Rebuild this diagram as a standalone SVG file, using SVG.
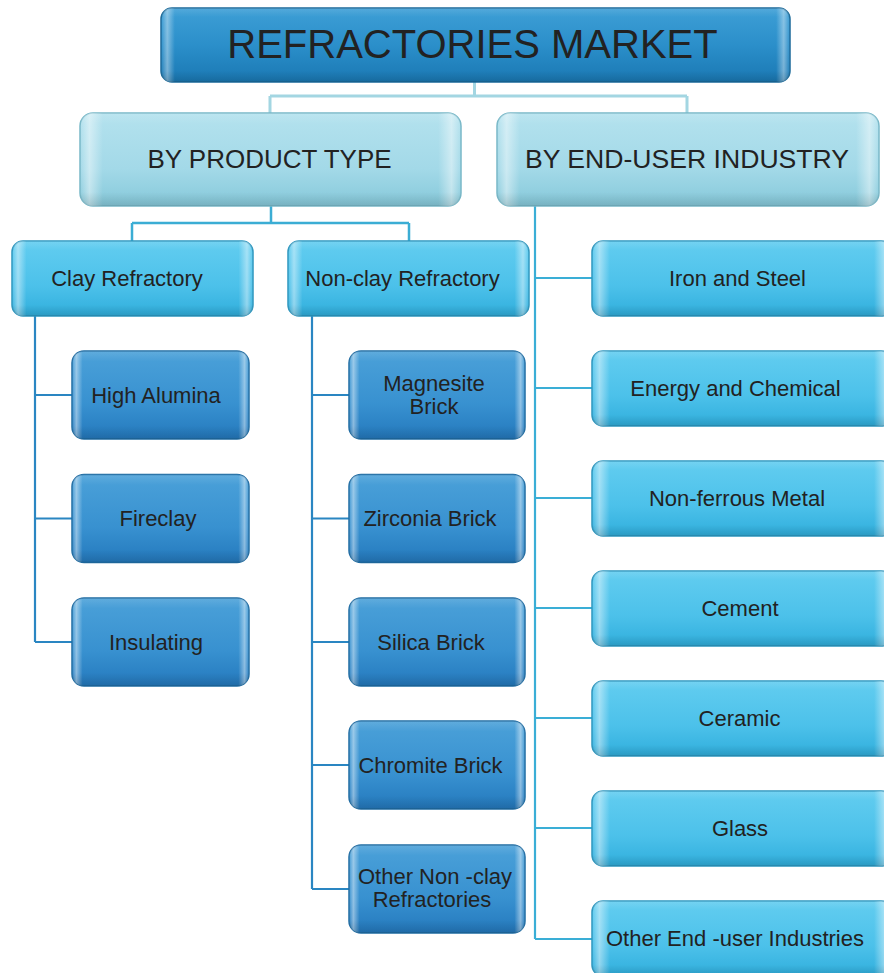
<svg xmlns="http://www.w3.org/2000/svg" width="884" height="973" viewBox="0 0 884 973">
<defs>
<linearGradient id="gTitle" x1="0" y1="0" x2="0" y2="1"><stop offset="0" stop-color="#3e9fd6"/><stop offset="0.5" stop-color="#2b8fca"/><stop offset="1" stop-color="#1a78b3"/></linearGradient>
<linearGradient id="gL2" x1="0" y1="0" x2="0" y2="1"><stop offset="0" stop-color="#b4e2ee"/><stop offset="0.6" stop-color="#a3d9e8"/><stop offset="1" stop-color="#86c9da"/></linearGradient>
<linearGradient id="gCyan" x1="0" y1="0" x2="0" y2="1"><stop offset="0" stop-color="#62cdf0"/><stop offset="0.6" stop-color="#4cc1ea"/><stop offset="1" stop-color="#30aedc"/></linearGradient>
<linearGradient id="gBlue" x1="0" y1="0" x2="0" y2="1"><stop offset="0" stop-color="#4ba1d9"/><stop offset="0.6" stop-color="#3891d0"/><stop offset="1" stop-color="#2479bd"/></linearGradient>
<linearGradient id="shineH" x1="0" y1="0" x2="1" y2="0"><stop offset="0" stop-color="#fff" stop-opacity="0"/><stop offset="0.025" stop-color="#fff" stop-opacity="0.45"/><stop offset="0.06" stop-color="#fff" stop-opacity="0"/><stop offset="0.94" stop-color="#fff" stop-opacity="0"/><stop offset="0.975" stop-color="#fff" stop-opacity="0.45"/><stop offset="1" stop-color="#fff" stop-opacity="0"/></linearGradient>
<linearGradient id="shineT" x1="0" y1="0" x2="1" y2="0"><stop offset="0" stop-color="#fff" stop-opacity="0"/><stop offset="0.01" stop-color="#fff" stop-opacity="0.4"/><stop offset="0.022" stop-color="#fff" stop-opacity="0"/><stop offset="0.978" stop-color="#fff" stop-opacity="0"/><stop offset="0.99" stop-color="#fff" stop-opacity="0.4"/><stop offset="1" stop-color="#fff" stop-opacity="0"/></linearGradient>
<linearGradient id="shadeV" x1="0" y1="0" x2="0" y2="1"><stop offset="0" stop-color="#fff" stop-opacity="0.12"/><stop offset="0.12" stop-color="#fff" stop-opacity="0"/><stop offset="0.85" stop-color="#000" stop-opacity="0"/><stop offset="1" stop-color="#000" stop-opacity="0.12"/></linearGradient>
</defs>
<style>
.box{stroke-width:1.5}
.title{fill:url(#gTitle);stroke:#1b6a9a}
.l2{fill:url(#gL2);stroke:#78b8c8}
.cyan{fill:url(#gCyan);stroke:#2d96be}
.blue{fill:url(#gBlue);stroke:#1f6ca3}
.sh{fill:url(#shineH)}
.st{fill:url(#shineT)}
.sv{fill:url(#shadeV)}
text{font-family:"Liberation Sans",Arial,sans-serif;fill:#222;text-anchor:middle}
.t1{font-size:40px}
.t2{font-size:26px}
.t3{font-size:22px}
.c0{fill:none;stroke:#a3d6e2;stroke-width:3}
.c1{fill:none;stroke:#3badd4;stroke-width:2.5}
.c2{fill:none;stroke:#2a86c2;stroke-width:2.2}
.c3{fill:none;stroke:#3aaed6;stroke-width:2.2}
</style>
<g id="connectors">
<path class="c0" d="M474.5 82V96M270 96H687M270 96V113M687 96V113"/>
<path class="c1" d="M271 206V223M132 223H409M132 223V241M409 223V241"/>
<path class="c2" d="M35 316V642M35 395H72M35 518.5H72M35 642H72"/>
<path class="c2" d="M312 316V889M312 395H349M312 518.5H349M312 642H349M312 765H349M312 889H349"/>
<path class="c3" d="M535 206V939M535 278H592M535 388H592M535 498H592M535 608H592M535 718H592M535 828H592M535 939H592"/>
</g>
<g id="n-market"><rect class="box title" x="161" y="8" width="629" height="74" rx="11"/><rect class="st" x="161" y="8" width="629" height="74" rx="11"/><rect class="sv" x="161" y="8" width="629" height="74" rx="11"/><text class="t1" x="472.5" y="57.5">REFRACTORIES MARKET</text></g>
<g id="n-product"><rect class="box l2" x="80" y="113" width="381" height="93" rx="13"/><rect class="sh" x="80" y="113" width="381" height="93" rx="13"/><rect class="sv" x="80" y="113" width="381" height="93" rx="13"/><text class="t2" x="269.5" y="168">BY PRODUCT TYPE</text></g>
<g id="n-enduser"><rect class="box l2" x="497" y="113" width="382" height="93" rx="13"/><rect class="sh" x="497" y="113" width="382" height="93" rx="13"/><rect class="sv" x="497" y="113" width="382" height="93" rx="13"/><text class="t2" x="687" y="168" textLength="324" lengthAdjust="spacingAndGlyphs">BY END-USER INDUSTRY</text></g>
<g id="n-clay"><rect class="box cyan" x="12" y="241" width="241" height="75" rx="11"/><rect class="sh" x="12" y="241" width="241" height="75" rx="11"/><rect class="sv" x="12" y="241" width="241" height="75" rx="11"/><text class="t3" x="127" y="285.5">Clay Refractory</text></g>
<g id="n-nonclay"><rect class="box cyan" x="288" y="241" width="241" height="75" rx="11"/><rect class="sh" x="288" y="241" width="241" height="75" rx="11"/><rect class="sv" x="288" y="241" width="241" height="75" rx="11"/><text class="t3" x="402.5" y="285.5">Non-clay Refractory</text></g>
<g id="n-highalumina"><rect class="box blue" x="72" y="351" width="177" height="88" rx="12"/><rect class="sh" x="72" y="351" width="177" height="88" rx="12"/><rect class="sv" x="72" y="351" width="177" height="88" rx="12"/><text class="t3" x="156" y="402.5">High Alumina</text></g>
<g id="n-fireclay"><rect class="box blue" x="72" y="474.5" width="177" height="88" rx="12"/><rect class="sh" x="72" y="474.5" width="177" height="88" rx="12"/><rect class="sv" x="72" y="474.5" width="177" height="88" rx="12"/><text class="t3" x="158" y="526">Fireclay</text></g>
<g id="n-insulating"><rect class="box blue" x="72" y="598" width="177" height="88" rx="12"/><rect class="sh" x="72" y="598" width="177" height="88" rx="12"/><rect class="sv" x="72" y="598" width="177" height="88" rx="12"/><text class="t3" x="156" y="649.5">Insulating</text></g>
<g id="n-magnesite"><rect class="box blue" x="349" y="351" width="176" height="88" rx="12"/><rect class="sh" x="349" y="351" width="176" height="88" rx="12"/><rect class="sv" x="349" y="351" width="176" height="88" rx="12"/><text class="t3" x="434" y="390.5">Magnesite</text><text class="t3" x="434" y="413.5">Brick</text></g>
<g id="n-zirconia"><rect class="box blue" x="349" y="474.5" width="176" height="88" rx="12"/><rect class="sh" x="349" y="474.5" width="176" height="88" rx="12"/><rect class="sv" x="349" y="474.5" width="176" height="88" rx="12"/><text class="t3" x="430" y="526">Zirconia Brick</text></g>
<g id="n-silica"><rect class="box blue" x="349" y="598" width="176" height="88" rx="12"/><rect class="sh" x="349" y="598" width="176" height="88" rx="12"/><rect class="sv" x="349" y="598" width="176" height="88" rx="12"/><text class="t3" x="431" y="649.5">Silica Brick</text></g>
<g id="n-chromite"><rect class="box blue" x="349" y="721" width="176" height="88" rx="12"/><rect class="sh" x="349" y="721" width="176" height="88" rx="12"/><rect class="sv" x="349" y="721" width="176" height="88" rx="12"/><text class="t3" x="430.5" y="772.5">Chromite Brick</text></g>
<g id="n-othernonclay"><rect class="box blue" x="349" y="845" width="176" height="88" rx="12"/><rect class="sh" x="349" y="845" width="176" height="88" rx="12"/><rect class="sv" x="349" y="845" width="176" height="88" rx="12"/><text class="t3" x="435" y="884">Other Non -clay</text><text class="t3" x="432" y="907">Refractories</text></g>
<g id="n-iron"><rect class="box cyan" x="592" y="241" width="300" height="75" rx="11"/><rect class="sh" x="592" y="241" width="300" height="75" rx="11"/><rect class="sv" x="592" y="241" width="300" height="75" rx="11"/><text class="t3" x="737.5" y="285.5">Iron and Steel</text></g>
<g id="n-energy"><rect class="box cyan" x="592" y="351" width="300" height="75" rx="11"/><rect class="sh" x="592" y="351" width="300" height="75" rx="11"/><rect class="sv" x="592" y="351" width="300" height="75" rx="11"/><text class="t3" x="735.5" y="395.5">Energy and Chemical</text></g>
<g id="n-nonferrous"><rect class="box cyan" x="592" y="461" width="300" height="75" rx="11"/><rect class="sh" x="592" y="461" width="300" height="75" rx="11"/><rect class="sv" x="592" y="461" width="300" height="75" rx="11"/><text class="t3" x="737" y="505.5">Non-ferrous Metal</text></g>
<g id="n-cement"><rect class="box cyan" x="592" y="571" width="300" height="75" rx="11"/><rect class="sh" x="592" y="571" width="300" height="75" rx="11"/><rect class="sv" x="592" y="571" width="300" height="75" rx="11"/><text class="t3" x="740" y="615.5">Cement</text></g>
<g id="n-ceramic"><rect class="box cyan" x="592" y="681" width="300" height="75" rx="11"/><rect class="sh" x="592" y="681" width="300" height="75" rx="11"/><rect class="sv" x="592" y="681" width="300" height="75" rx="11"/><text class="t3" x="739.5" y="725.5">Ceramic</text></g>
<g id="n-glass"><rect class="box cyan" x="592" y="791" width="300" height="75" rx="11"/><rect class="sh" x="592" y="791" width="300" height="75" rx="11"/><rect class="sv" x="592" y="791" width="300" height="75" rx="11"/><text class="t3" x="740" y="835.5">Glass</text></g>
<g id="n-otherend"><rect class="box cyan" x="592" y="901" width="300" height="75" rx="11"/><rect class="sh" x="592" y="901" width="300" height="75" rx="11"/><rect class="sv" x="592" y="901" width="300" height="75" rx="11"/><text class="t3" x="735" y="945.5">Other End -user Industries</text></g>
</svg>
